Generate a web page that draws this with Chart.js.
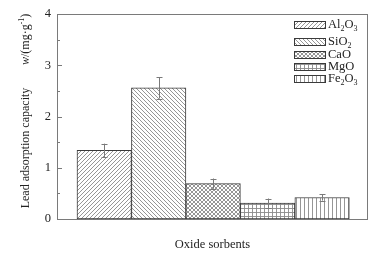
<!DOCTYPE html>
<html>
<head>
<meta charset="utf-8">
<script src="https://cdn.jsdelivr.net/npm/chart.js@4.4.1/dist/chart.umd.min.js"></script>
<style>
  html, body { margin: 0; padding: 0; background: #ffffff; }
  canvas { display: block; }
</style>
</head>
<body>
<canvas id="chart" width="389" height="257"></canvas>
<script>
// values
const sorbents = ["Al2O3", "SiO2", "CaO", "MgO", "Fe2O3"];
const capacity = [1.34, 2.56, 0.69, 0.31, 0.42];
const capacityError = [0.13, 0.21, 0.1, 0.09, 0.06];
const hatchKinds = ["slash", "backslash", "cross", "grid", "vertical"];
const yTicks = [0, 1, 2, 3, 4];

const FONT = "'Liberation Serif', 'Times New Roman', serif";
const LINE = "#7a7a7a";
const EDGE = "#3a3a3a";
// legend rows, as placed in the figure
const legendRowY = [25, 42, 55, 67, 79];

function makeHatch(kind) {
  const size = 4;
  const tile = document.createElement("canvas");
  tile.width = size;
  tile.height = size;
  const ctx = tile.getContext("2d");
  ctx.fillStyle = "#ffffff";
  ctx.fillRect(0, 0, size, size);
  ctx.strokeStyle = "#8a8a8a";
  ctx.lineWidth = 0.9;

  const seg = (x1, y1, x2, y2) => {
    ctx.beginPath();
    ctx.moveTo(x1, y1);
    ctx.lineTo(x2, y2);
    ctx.stroke();
  };
  const slash = () => {
    seg(-1, size + 1, size + 1, -1);
    seg(-1, 1, 1, -1);
    seg(size - 1, size + 1, size + 1, size - 1);
  };
  const backslash = () => {
    seg(-1, -1, size + 1, size + 1);
    seg(size - 1, -1, size + 1, 1);
    seg(-1, size - 1, 1, size + 1);
  };

  if (kind === "slash") {
    slash();
  } else if (kind === "backslash") {
    backslash();
  } else if (kind === "cross") {
    slash();
    backslash();
  } else if (kind === "grid") {
    seg(0.5, 0, 0.5, size);
    seg(0, 0.5, size, 0.5);
  } else {
    seg(0.5, 0, 0.5, size);
  }
  return ctx.createPattern(tile, "repeat");
}

const patterns = hatchKinds.map(makeHatch);

// bars sit on a linear x scale so the empty margins left and right match the figure
const xStart = 0.867;
const barPoints = capacity.map((value, i) => ({ x: xStart + i, y: value }));

// draws text like "Al2O3" with the digits lowered as subscripts
function drawFormula(ctx, text, x, y, size) {
  let cursor = x;
  for (const ch of text) {
    const isDigit = ch >= "0" && ch <= "9";
    ctx.font = `${isDigit ? Math.round(size * 0.62) : size}px ${FONT}`;
    ctx.fillText(ch, cursor, isDigit ? y + size * 0.35 : y);
    cursor += ctx.measureText(ch).width;
  }
}

const framePlugin = {
  id: "frame",
  afterDraw(chart) {
    const { ctx, chartArea } = chart;
    const yScale = chart.scales.y;
    ctx.save();
    ctx.strokeStyle = LINE;
    ctx.lineWidth = 1;
    ctx.strokeRect(chartArea.left + 0.5, chartArea.top + 0.5,
      chartArea.right - chartArea.left - 1, chartArea.bottom - chartArea.top);

    // inward ticks, major at integers and minor in between
    for (let v = 0; v <= 4; v += 0.5) {
      const py = Math.round(yScale.getPixelForValue(v)) + 0.5;
      const len = Number.isInteger(v) ? 5 : 3;
      ctx.beginPath();
      ctx.moveTo(chartArea.left, py);
      ctx.lineTo(chartArea.left + len, py);
      ctx.stroke();
    }
    ctx.restore();
  },
};

const errorBarPlugin = {
  id: "errorBars",
  afterDatasetsDraw(chart) {
    const { ctx } = chart;
    const xScale = chart.scales.x;
    const yScale = chart.scales.y;
    ctx.save();
    ctx.strokeStyle = LINE;
    ctx.lineWidth = 1;
    barPoints.forEach((point, i) => {
      const px = Math.round(xScale.getPixelForValue(point.x)) + 0.5;
      const top = yScale.getPixelForValue(point.y + capacityError[i]);
      const bottom = yScale.getPixelForValue(point.y - capacityError[i]);
      ctx.beginPath();
      ctx.moveTo(px, top);
      ctx.lineTo(px, bottom);
      ctx.moveTo(px - 3, Math.round(top) + 0.5);
      ctx.lineTo(px + 3, Math.round(top) + 0.5);
      ctx.moveTo(px - 3, Math.round(bottom) + 0.5);
      ctx.lineTo(px + 3, Math.round(bottom) + 0.5);
      ctx.stroke();
    });
    ctx.restore();
  },
};

const legendPlugin = {
  id: "hatchLegend",
  afterDraw(chart) {
    const { ctx } = chart;
    ctx.save();
    ctx.textBaseline = "middle";
    ctx.textAlign = "left";
    sorbents.forEach((name, i) => {
      const cy = legendRowY[i];
      ctx.fillStyle = patterns[i];
      ctx.fillRect(294, cy - 4, 32, 8);
      ctx.strokeStyle = EDGE;
      ctx.lineWidth = 1;
      ctx.strokeRect(294.5, cy - 3.5, 31, 7);
      ctx.fillStyle = "#222222";
      drawFormula(ctx, name, 328, cy, 12.5);
    });
    ctx.restore();
  },
};

const yTitlePlugin = {
  id: "yTitle",
  afterDraw(chart) {
    const { ctx } = chart;
    ctx.save();
    ctx.fillStyle = "#222222";
    ctx.textBaseline = "middle";
    ctx.translate(26, 0);
    ctx.rotate(-Math.PI / 2);
    ctx.textAlign = "center";
    ctx.font = `12px ${FONT}`;
    ctx.fillText("Lead adsorption capacity", -148, 0);

    // "w/(mg·g-1)" with italic w and a superscript -1
    ctx.textAlign = "left";
    let cursor = -65;
    ctx.font = `italic 12px ${FONT}`;
    ctx.fillText("w", cursor, 0);
    cursor += ctx.measureText("w").width;
    ctx.font = `12px ${FONT}`;
    ctx.fillText("/(mg·g", cursor, 0);
    cursor += ctx.measureText("/(mg·g").width;
    ctx.font = `8px ${FONT}`;
    ctx.fillText("-1", cursor, -4);
    cursor += ctx.measureText("-1").width;
    ctx.font = `12px ${FONT}`;
    ctx.fillText(")", cursor, 0);
    ctx.restore();
  },
};

new Chart(document.getElementById("chart"), {
  type: "bar",
  data: {
    datasets: [
      {
        label: "Lead adsorption capacity",
        data: barPoints,
        backgroundColor: patterns,
        borderColor: EDGE,
        borderWidth: 1,
        borderSkipped: false,
        categoryPercentage: 1,
        barPercentage: 1,
      },
    ],
  },
  options: {
    responsive: false,
    animation: false,
    devicePixelRatio: 1,
    layout: { padding: { left: 0, top: 14, right: 21, bottom: 0 } },
    plugins: {
      legend: { display: false },
      tooltip: { enabled: false },
    },
    scales: {
      x: {
        type: "linear",
        offset: false,
        min: 0,
        max: 5.71,
        grid: { display: false, drawTicks: false },
        border: { display: false },
        ticks: { display: false },
        title: {
          display: true,
          text: "Oxide sorbents",
          color: "#222222",
          font: { family: FONT, size: 12.5 },
          padding: { top: 4, bottom: 5 },
        },
        afterFit(scale) {
          scale.height = 38;
        },
      },
      y: {
        min: 0,
        max: 4,
        afterBuildTicks(scale) {
          scale.ticks = yTicks.map((value) => ({ value }));
        },
        grid: { display: false, drawTicks: false },
        border: { display: false },
        ticks: {
          color: "#222222",
          padding: 6,
          font: { family: FONT, size: 12.5 },
        },
        afterFit(scale) {
          scale.width = 57;
        },
      },
    },
  },
  plugins: [framePlugin, errorBarPlugin, legendPlugin, yTitlePlugin],
});
</script>
</body>
</html>
